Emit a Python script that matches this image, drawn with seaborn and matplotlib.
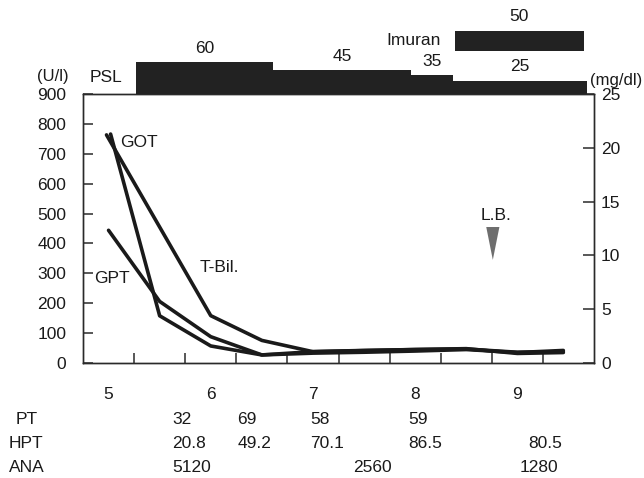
import numpy as np
import pandas as pd
import matplotlib
matplotlib.use("Agg")
import matplotlib.pyplot as plt
import matplotlib.transforms as mtransforms
import seaborn as sns

# --- data (x in months) ---
got_month = [5.02, 5.5, 6.0, 6.5, 7.0, 7.5, 8.0, 8.5, 9.0, 9.45]
got_ul = [766, 158, 57, 27, 38, 42, 45, 48, 32, 35]

gpt_month = [5.0, 5.5, 6.0, 6.5, 7.0, 7.5, 8.0, 8.5, 9.0, 9.45]
gpt_ul = [444, 206, 88, 27, 33, 36, 40, 45, 35, 42]

tbil_month = [4.98, 6.0, 6.5, 7.0, 7.5, 8.0, 8.5, 9.0, 9.45]
tbil_mgdl = [21.2, 4.4, 2.1, 1.05, 1.15, 1.25, 1.3, 1.0, 1.05]

psl_start = [5.27, 6.61, 7.96, 8.37]
psl_end = [6.61, 7.96, 8.37, 9.68]
psl_dose = [60, 45, 35, 25]

imuran_start = [8.39]
imuran_end = [9.65]
imuran_dose = [50]

lb_month = 8.76
lb_level = 400

month_labels = [5, 6, 7, 8, 9]

pt_month = [5.62, 6.26, 6.97, 7.93]
pt_vals = ["32", "69", "58", "59"]
hpt_month = [5.62, 6.26, 6.97, 7.93, 9.11]
hpt_vals = ["20.8", "49.2", "70.1", "86.5", "80.5"]
ana_month = [5.62, 7.39, 9.02]
ana_vals = ["5120", "2560", "1280"]

# --- style ---
sns.set_style("ticks")
plt.rcParams["font.family"] = ["Liberation Sans", "DejaVu Sans"]
plt.rcParams["font.size"] = 12.5
ink = "#1a1a1a"
fs = 12.5

W, H = 644, 478
fig = plt.figure(figsize=(W / 100, H / 100), dpi=100)

def box(l, t, r, b):
    return [l / W, 1 - b / H, (r - l) / W, (b - t) / H]

ax = fig.add_axes(box(83, 94, 594, 363))
ax2 = ax.twinx()
top = fig.add_axes(box(83, 0, 594, 94))

xlim = (4.75, 9.75)

# lab curves
sns.lineplot(x=got_month, y=got_ul, ax=ax, color=ink, lw=2.6, sort=False)
sns.lineplot(x=gpt_month, y=gpt_ul, ax=ax, color=ink, lw=2.6, sort=False)
sns.lineplot(x=tbil_month, y=tbil_mgdl, ax=ax2, color=ink, lw=2.6, sort=False)

ax.set_xlim(*xlim)
ax.set_ylim(0, 900)
ax2.set_ylim(0, 25)

ax.set_yticks(range(0, 901, 100))
ax2.set_yticks(range(0, 26, 5))
ax.set_xticks(month_labels)
ax.set_xticklabels([str(m) for m in month_labels])
ax.set_xticks(np.arange(5.25, 9.3, 0.5), minor=True)
ax.tick_params(axis="x", which="major", bottom=True, length=0, pad=17,
               labelsize=fs, colors=ink)
ax.tick_params(axis="x", which="minor", bottom=True, direction="in", length=7,
               width=1.1, color="#2a2a2a")
ax.tick_params(axis="y", which="major", left=True, right=False, direction="in",
               length=7, width=1.1, pad=12, labelsize=fs, labelcolor=ink, color="#2a2a2a")
ax2.tick_params(axis="y", which="major", right=True, left=False, direction="in",
                length=8, width=1.1, pad=5, labelsize=fs, labelcolor=ink, color="#2a2a2a")
for a in (ax, ax2):
    for s in a.spines.values():
        s.set_visible(True)
        s.set_color("#2a2a2a")
        s.set_linewidth(1.0)
ax.set_xlabel("")
ax.set_ylabel("")
ax2.set_ylabel("")

# curve labels
ax.text(5.11, 739, "GOT", ha="left", va="center", fontsize=fs, color=ink)
ax.text(4.86, 284, "GPT", ha="left", va="center", fontsize=fs, color=ink)
ax.text(5.89, 318, "T-Bil.", ha="left", va="center", fontsize=fs, color=ink)

# liver biopsy marker
tri = [(-0.4, 1.0), (0.4, 1.0), (0.0, -1.0), (-0.4, 1.0)]
ax.scatter([lb_month], [lb_level], marker=tri, s=560, color="#6e6e6e",
           edgecolor="none", zorder=3)
ax.text(lb_month + 0.03, 495, "L.B.", ha="center", va="center", fontsize=fs, color=ink)

# drug bars on top
top.set_xlim(*xlim)
top.set_ylim(0, 177)
top.axis("off")
psl_w = [e - s for s, e in zip(psl_start, psl_end)]
top.bar(psl_start, psl_dose, width=psl_w, align="edge", color="#222222", linewidth=0)
for s, w, d in zip(psl_start, psl_w, psl_dose):
    top.annotate(str(d), (s + w / 2, d), xytext=(0, 10), textcoords="offset points",
                 ha="center", va="center", fontsize=fs, color=ink)
imu_w = [e - s for s, e in zip(imuran_start, imuran_end)]
top.bar(imuran_start, [38], width=imu_w, bottom=81, align="edge",
        color="#222222", linewidth=0)
for s, w, d in zip(imuran_start, imu_w, imuran_dose):
    top.annotate(str(d), (s + w / 2, 119), xytext=(0, 10), textcoords="offset points",
                 ha="center", va="center", fontsize=fs, color=ink)
top.text(imuran_start[0] - 0.14, 100, "Imuran", ha="right", va="center",
         fontsize=fs, color=ink)

fig.text(106 / W, 1 - 77 / H, "PSL", ha="center", va="center", fontsize=fs, color=ink)
fig.text(53 / W, 1 - 77 / H, "(U/l)", ha="center", va="center", fontsize=12, color=ink)
fig.text(590 / W, 1 - 80 / H, "(mg/dl)", ha="left", va="center", fontsize=12, color=ink)

# table below the axis
trans = mtransforms.blended_transform_factory(ax.transData, fig.transFigure)
rows = [("PT", 16, 419, pt_month, pt_vals),
        ("HPT", 9, 443, hpt_month, hpt_vals),
        ("ANA", 9, 467, ana_month, ana_vals)]
for name, lx, ly, xs, vals in rows:
    fig.text(lx / W, 1 - ly / H, name, ha="left", va="center", fontsize=fs, color=ink)
    for xm, v in zip(xs, vals):
        ax.text(xm, 1 - ly / H, v, transform=trans, ha="left", va="center",
                fontsize=fs, color=ink, clip_on=False)

fig.savefig("out.png", dpi=100)
